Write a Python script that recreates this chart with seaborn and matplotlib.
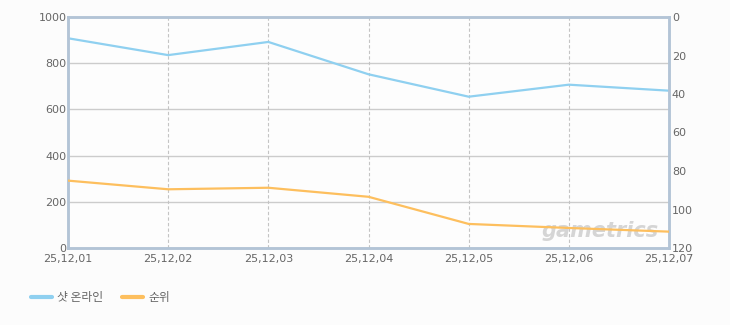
import matplotlib
matplotlib.use("Agg")
import matplotlib.pyplot as plt
import seaborn as sns
import pandas as pd
from matplotlib.lines import Line2D

dates = ["25,12,01", "25,12,02", "25,12,03", "25,12,04", "25,12,05", "25,12,06", "25,12,07"]
shot_online = [908, 835, 892, 752, 655, 707, 681]
rank = [85, 89.5, 88.7, 93.4, 107.5, 109.6, 111.5]
series_names = ["샷 온라인", "순위"]

sns.set_theme(style="white")
plt.rcParams['font.family'] = ['DejaVu Sans', 'Noto Sans CJK KR']

blue = "#8fd0f0"
orange = "#fdbf5e"
spine_c = "#b3c4d6"
txt_c = "#666666"

fig = plt.figure(figsize=(7.3, 3.25), dpi=100, facecolor="#fcfcfc")
ax = fig.add_axes([68/730, 1-248/325, 601/730, 231/325])
ax.set_facecolor("#fdfdfd")

df = pd.DataFrame({"x": range(len(dates)), "shot": shot_online, "rank": rank})
sns.lineplot(data=df, x="x", y="shot", ax=ax, color=blue, linewidth=1.6)
ax.set_xlim(0, len(dates)-1)
ax.set_ylim(0, 1000)
ax.set_yticks([0, 200, 400, 600, 800, 1000])
ax.set_xticks(range(len(dates)))
ax.set_xticklabels(dates)
ax.set_xlabel("")
ax.set_ylabel("")
for y in [200, 400, 600, 800]:
    ax.axhline(y, color="#cccccc", linewidth=1, zorder=0)
for x in range(1, len(dates)-1):
    ax.axvline(x, color="#c4c4c4", linewidth=0.8, linestyle=(0, (3, 2)), zorder=0)

ax2 = ax.twinx()
ax2.text(0.983, 0.075, "gametrics", transform=ax2.transAxes, ha="right", va="center",
         fontsize=15, fontstyle="italic", fontweight="bold", color="#c8c8c8", alpha=0.75, zorder=1)
sns.lineplot(data=df, x="x", y="rank", ax=ax2, color=orange, linewidth=1.6, zorder=3)
ax2.set_ylim(120, 0)
ax2.set_yticks([0, 20, 40, 60, 80, 100, 120])
ax2.set_ylabel("")
ax2.set_xlim(0, len(dates)-1)

for a in (ax, ax2):
    for s in a.spines.values():
        s.set_color(spine_c)
        s.set_linewidth(1.8)
    a.tick_params(axis="both", length=0, labelsize=8, colors=txt_c, pad=1)
ax.tick_params(axis="x", pad=4)
ax2.tick_params(axis="y", pad=2)

handles = [Line2D([0], [0], color=blue, linewidth=3), Line2D([0], [0], color=orange, linewidth=3)]
fig.legend(handles, series_names, loc="center left", bbox_to_anchor=(0.028, 1-298/325), ncol=2,
           frameon=False, handlelength=1.8, handletextpad=0.4, columnspacing=1.6,
           labelcolor=txt_c, prop={"family": ["Noto Sans CJK KR", "DejaVu Sans"], "size": 8.5})

fig.savefig("out.png", dpi=100, facecolor=fig.get_facecolor())
